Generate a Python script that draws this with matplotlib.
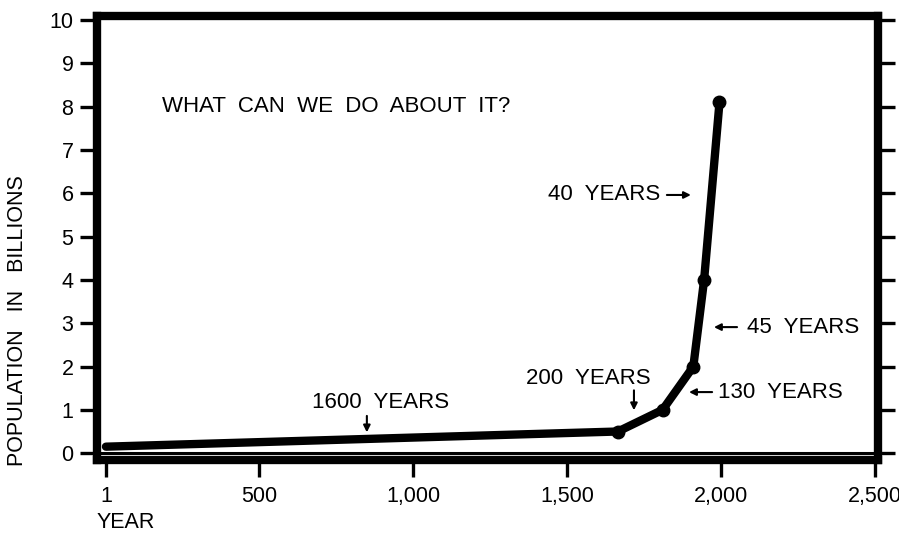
import matplotlib
matplotlib.use("Agg")
import matplotlib.pyplot as plt

# data
years = [1, 1665, 1810, 1910, 1945, 1995]
population = [0.15, 0.5, 1.0, 2.0, 4.0, 8.1]
dot_years = years[1:]
dot_pop = population[1:]

x_ticks = [1, 500, 1000, 1500, 2000, 2500]
x_labels = ["1", "500", "1,000", "1,500", "2,000", "2,500"]
y_ticks = list(range(0, 11))

plt.rcParams['font.family'] = ['Liberation Sans', 'DejaVu Sans']

fig = plt.figure(figsize=(8.99, 5.35), dpi=100)
ax = fig.add_axes([0.1079, 0.140, 0.8687, 0.830])

ax.plot(years, population, color='black', lw=6, solid_capstyle='round',
        solid_joinstyle='round', zorder=3)
ax.plot(dot_years, dot_pop, 'o', color='black', ms=9, zorder=4)
ax.axhline(0, color='black', lw=2.2)

ax.set_xlim(-28, 2510)
ax.set_ylim(-0.16, 10.09)
ax.set_xticks(x_ticks)
ax.set_xticklabels(x_labels)
ax.set_yticks(y_ticks)

for s in ax.spines.values():
    s.set_linewidth(6)
ax.tick_params(axis='both', direction='out', width=2.4, labelsize=15.5, colors='black')
ax.tick_params(axis='y', length=12, right=True, pad=5)
ax.tick_params(axis='x', length=12, pad=7)

fig.text(0.019, 0.40, "POPULATION   IN   BILLIONS", fontsize=15.5, rotation=90,
         ha='center', va='center')
fig.text(0.107, 0.024, "YEAR", fontsize=15.5, ha='left', va='center')

arrow = dict(arrowstyle='-|>', color='black', lw=1.5, mutation_scale=10,
             shrinkA=0, shrinkB=0)
fs = 16

# annotations
ax.text(183, 8.0, "WHAT  CAN  WE  DO  ABOUT  IT?", fontsize=fs, va='center')
ax.text(670, 1.18, "1600  YEARS", fontsize=fs, va='center', ha='left')
ax.annotate("", xy=(849, 0.48), xytext=(849, 0.86), arrowprops=arrow)
ax.text(1366, 1.73, "200  YEARS", fontsize=fs, va='center', ha='left')
ax.annotate("", xy=(1717, 0.99), xytext=(1717, 1.45), arrowprops=arrow)
ax.text(1991, 1.41, "130  YEARS", fontsize=fs, va='center', ha='left')
ax.annotate("", xy=(1896, 1.41), xytext=(1971, 1.41), arrowprops=arrow)
ax.text(2085, 2.91, "45  YEARS", fontsize=fs, va='center', ha='left')
ax.annotate("", xy=(1977, 2.91), xytext=(2052, 2.91), arrowprops=arrow)
ax.text(1437, 5.96, "40  YEARS", fontsize=fs, va='center', ha='left')
ax.annotate("", xy=(1902, 5.96), xytext=(1824, 5.96), arrowprops=arrow)

fig.savefig("out.png", dpi=100)
